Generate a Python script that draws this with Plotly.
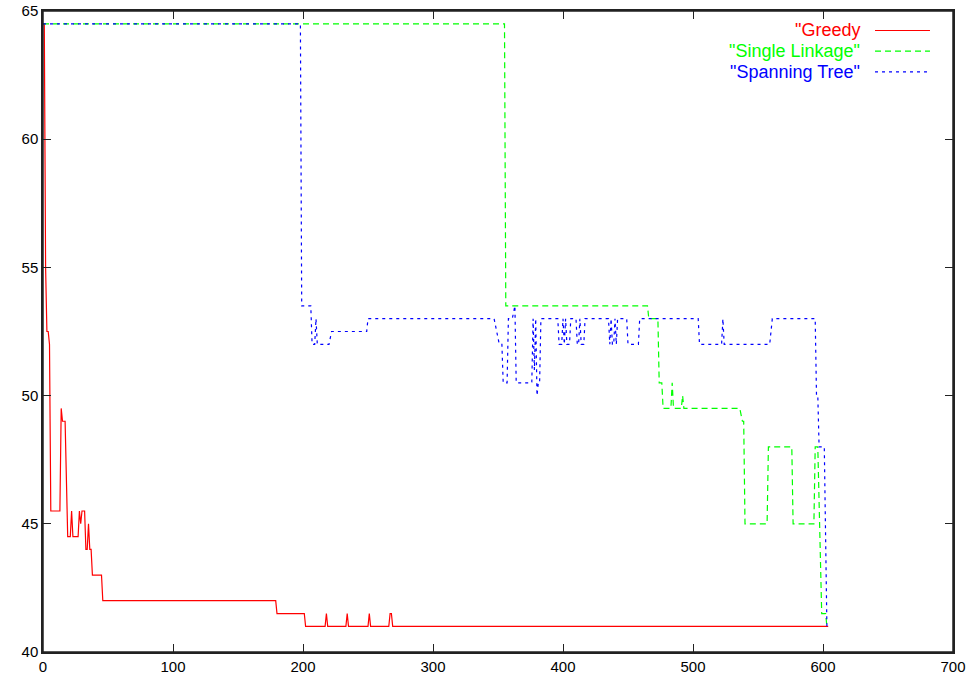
import plotly.graph_objects as go

# ---- data ----
greedy_x = [0, 1, 2, 3, 4, 5, 6, 13, 14, 15, 17, 19, 21, 22, 23, 27, 28, 29, 30, 32, 33, 34, 35, 36, 37, 38, 45, 46,
            179, 180, 201, 202, 217, 218, 219, 233, 234, 235, 250, 251, 252, 266, 267, 268, 269, 604]
greedy_y = [64.5, 64.5, 55, 52.5, 52.5, 52, 45.5, 45.5, 49.5, 49, 49, 44.5, 44.5, 45.5, 44.5, 44.5, 45.5, 45, 45.5, 45.5,
            44, 44, 45, 44, 44, 43, 43, 42, 42, 41.5, 41.5, 41, 41, 41.5, 41, 41, 41.5, 41, 41, 41.5, 41, 41, 41.5,
            41.5, 41, 41]

single_x = [0, 355, 356, 465, 466, 473, 474, 476, 477, 483, 484, 485, 491, 492, 493, 536, 538, 539, 540, 557, 558,
            576, 577, 593, 594, 596, 599, 602, 603]
single_y = [64.5, 64.5, 53.5, 53.5, 53, 53, 50.5, 50.5, 49.5, 49.5, 50.5, 49.5, 49.5, 50, 49.5, 49.5, 49, 49, 45, 45,
            48, 48, 45, 45, 48, 48, 41.5, 41.5, 41]

span_x = [0, 198, 199, 206, 207, 209, 210, 211, 220, 222, 249, 250, 347, 351, 353, 354, 357, 358, 361, 363, 364, 376,
          377, 378, 379, 380, 381, 382, 383, 396, 397, 399, 400, 401, 402, 403, 405, 406, 410, 411, 412, 413, 414, 416,
          417, 435, 436, 437, 438, 439, 440, 441, 442, 449, 450, 458, 459, 504, 505, 522, 523, 524, 559, 561, 594,
          595, 596, 597, 601, 603, 604]
span_y = [64.5, 64.5, 53.5, 53.5, 52, 52, 53, 52, 52, 52.5, 52.5, 53, 53, 52, 52, 50.5, 50.5, 53, 53, 53.5, 50.5,
          50.5, 53, 51, 53, 50, 50.5, 50.5, 53, 53, 52, 52, 53, 52, 53, 52, 52, 53, 53, 52, 52, 53, 52, 52, 53, 53,
          52, 53, 52, 52, 53, 52, 53, 53, 52, 52, 53, 53, 52, 52, 53, 52, 52, 53, 53, 50, 50, 48, 48, 41, 41]

x_ticks = [0, 100, 200, 300, 400, 500, 600, 700]
y_ticks = [40, 45, 50, 55, 60, 65]

series_names = ['"Greedy', '"Single Linkage"', '"Spanning Tree"']
series_colors = ["#ff0000", "#00ff00", "#0000ff"]
series_dash = ["solid", "6px,4px", "3px,4px"]

FONT = "Liberation Sans, Arial, sans-serif"

fig = go.Figure()
for xs, ys, name, col, dash in zip([greedy_x, single_x, span_x], [greedy_y, single_y, span_y],
                                   series_names, series_colors, series_dash):
    fig.add_trace(go.Scatter(x=xs, y=ys, mode="lines", name=name, showlegend=False,
                             line=dict(color=col, width=1.2, dash=dash)))

# manual gnuplot-style legend: text right, sample line left
leg_y = [0.9696, 0.9373, 0.905]
for name, col, dash, yy in zip(series_names, series_colors, series_dash, leg_y):
    fig.add_annotation(x=0.9, y=yy, xref="paper", yref="paper", text=name, showarrow=False,
                       xanchor="right", yanchor="middle", font=dict(family=FONT, size=18, color=col))
    fig.add_shape(type="line", xref="paper", yref="paper", x0=0.9143, x1=0.9747, y0=yy, y1=yy,
                  line=dict(color=col, width=1.2, dash=dash))

# plot frame
fig.add_shape(type="rect", xref="paper", yref="paper", x0=0, x1=1, y0=0, y1=1,
              line=dict(color="#222", width=1.5), layer="above")

axis_common = dict(showgrid=False, zeroline=False, showline=True, linecolor="#222", linewidth=1.5,
                   mirror="allticks", ticks="inside", ticklen=8, tickcolor="#222", tickwidth=1,
                   automargin=False, ticklabeloverflow="allow",
                   tickfont=dict(family=FONT, size=15, color="#000"))
fig.update_xaxes(range=[0, 700], tickvals=x_ticks, ticktext=[str(v) for v in x_ticks], **axis_common)
fig.update_yaxes(range=[40, 65], tickvals=y_ticks, ticktext=[str(v) for v in y_ticks], **axis_common)

fig.update_layout(width=974, height=682, margin=dict(l=43, r=21, t=11, b=30, autoexpand=False),
                  plot_bgcolor="white", paper_bgcolor="white", showlegend=False)

# remove the default 8px page margin so the figure fills the window exactly
fig.write_html("out.html", config={"displayModeBar": False},
               post_script="document.body.style.margin='0';document.body.style.overflow='hidden';")
